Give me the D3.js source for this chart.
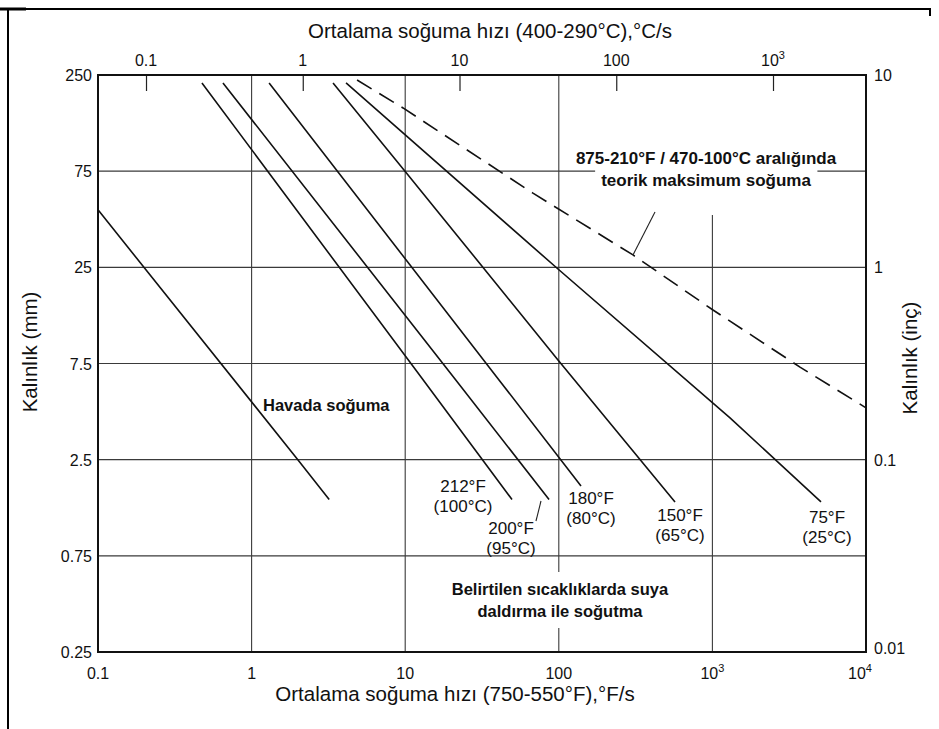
<!DOCTYPE html>
<html>
<head>
<meta charset="utf-8">
<script src="https://cdn.jsdelivr.net/npm/d3@7"></script>
<style>
  html, body { margin: 0; padding: 0; background: #fff; }
  svg { display: block; }
  text { font-family: "Liberation Sans", Arial, Helvetica, sans-serif; fill: #111; }
  .bold { font-weight: bold; }
</style>
</head>
<body>
<svg id="chart" width="939" height="729"></svg>
<script>
// Bottom axis: average cooling rate (750-550°F), °F/s
const bottomTicks = [0.1, 1, 10, 100, 1000, 10000];
const bottomTickLabels = [["0.1"], ["1"], ["10"], ["100"], ["10", "3"], ["10", "4"]];
// Top axis: average cooling rate (400-290°C), °C/s
const topTicks = [0.1, 1, 10, 100, 1000];
const topTickLabels = [["0.1"], ["1"], ["10"], ["100"], ["10", "3"]];
// Thickness, inches (right) and millimetres (left)
const inchTicks = [10, 1, 0.1, 0.01];
const inchTickLabels = ["10", "1", "0.1", "0.01"];
const mmTickInches = [10, 3.162, 1, 0.3162, 0.1, 0.03162, 0.01];
const mmTickLabels = ["250", "75", "25", "7.5", "2.5", "0.75", "0.25"];

// Cooling curves: rate in °F/s against thickness in inches
const airRate = [0.1, 2.0, 3.2];
const airThick = [1.99, 0.1, 0.062];
const w212Rate = [0.475, 12.5, 49.6];
const w212Thick = [9.09, 0.273, 0.062];
const w200Rate = [0.651, 21.1, 86.4];
const w200Thick = [9.09, 0.263, 0.062];
const w180Rate = [1.30, 41.4, 139.5];
const w180Thick = [9.09, 0.256, 0.073];
const w150Rate = [3.39, 9.82, 98.8, 571];
const w150Thick = [9.09, 3.21, 0.33, 0.0603];
const w75Rate = [4.12, 98.8, 1302, 5093];
const w75Thick = [9.09, 0.98, 0.165, 0.0603];
const maxRate = [4.86, 9.68, 67.9, 304, 1009, 3718, 10000];
const maxThick = [9.42, 6.74, 2.43, 1.16, 0.60, 0.303, 0.186];

const svg = d3.select("#chart");
const plot = { left: 98, right: 866, top: 75, bottom: 652 };

const x = d3.scaleLog().domain([0.1, 10000]).range([plot.left, plot.right]);
const xTop = d3.scaleLog().domain([0.0494, 3920]).range([plot.left, plot.right]);
const y = d3.scaleLog().domain([0.01, 10]).range([plot.bottom, plot.top]);

// Outer frame fragments
const frame = svg.append("g").attr("stroke", "#000").attr("fill", "none");
frame.append("line").attr("x1", 0).attr("x2", 26).attr("y1", 9).attr("y2", 9).attr("stroke-width", 3);
frame.append("line").attr("x1", 8).attr("x2", 931).attr("y1", 9).attr("y2", 9).attr("stroke-width", 2);
frame.append("line").attr("x1", 8).attr("x2", 8).attr("y1", 9).attr("y2", 729).attr("stroke-width", 2);
frame.append("line").attr("x1", 930).attr("x2", 930).attr("y1", 9).attr("y2", 16).attr("stroke-width", 2);

// Grid
const grid = svg.append("g").attr("stroke", "#3a3a3a").attr("stroke-width", 1.1);
mmTickInches.slice(1, -1).forEach(v => {
  grid.append("line").attr("x1", plot.left).attr("x2", plot.right)
    .attr("y1", y(v)).attr("y2", y(v));
});
const verticalGridStart = { 1000: 215 };
bottomTicks.slice(1, -1).forEach(v => {
  grid.append("line").attr("x1", x(v)).attr("x2", x(v))
    .attr("y1", verticalGridStart[v] || plot.top).attr("y2", plot.bottom);
});

// Top axis ticks point inward from the top edge
const topAxis = d3.axisBottom(xTop).tickValues(topTicks).tickSize(16).tickFormat("");
svg.append("g").attr("transform", `translate(0,${plot.top})`).call(topAxis)
  .call(g => g.select(".domain").remove())
  .call(g => g.selectAll(".tick line").attr("stroke", "#222").attr("stroke-width", 1.2));

function supLabel(sel, parts) {
  sel.append("tspan").text(parts[0]);
  if (parts[1]) sel.append("tspan").attr("dy", -7).attr("font-size", 11).text(parts[1]);
}

const labels = svg.append("g").attr("font-size", 16);
topTicks.forEach((v, i) => {
  labels.append("text").attr("x", xTop(v)).attr("y", 66).attr("text-anchor", "middle")
    .call(s => supLabel(s, topTickLabels[i]));
});
bottomTicks.forEach((v, i) => {
  labels.append("text").attr("x", x(v) - (i === bottomTicks.length - 1 ? 6 : 0)).attr("y", 679)
    .attr("text-anchor", "middle")
    .call(s => supLabel(s, bottomTickLabels[i]));
});
mmTickInches.forEach((v, i) => {
  labels.append("text").attr("x", plot.left - 6).attr("y", y(v) + 6).attr("text-anchor", "end")
    .text(mmTickLabels[i]);
});
inchTicks.forEach((v, i) => {
  labels.append("text").attr("x", plot.right + 8).attr("y", y(v) + (i === inchTicks.length - 1 ? 2 : 6))
    .attr("text-anchor", "start")
    .text(inchTickLabels[i]);
});

// Axis titles
svg.append("text").attr("x", 490).attr("y", 38).attr("text-anchor", "middle").attr("font-size", 20.5)
  .text("Ortalama soğuma hızı (400-290°C),°C/s");
svg.append("text").attr("x", 455).attr("y", 701).attr("text-anchor", "middle").attr("font-size", 20.5)
  .text("Ortalama soğuma hızı (750-550°F),°F/s");
svg.append("text").attr("transform", "translate(37,352) rotate(-90)").attr("text-anchor", "middle")
  .attr("font-size", 20.5).text("Kalınlık (mm)");
svg.append("text").attr("transform", "translate(917,358) rotate(-90)").attr("text-anchor", "middle")
  .attr("font-size", 20.5).text("Kalınlık (inç)");

// Annotation texts with white backing that breaks the grid under them
const notes = svg.append("g").attr("class", "bold");
function note(textStr, cx, cy, size, padX, padY, anchor) {
  const t = notes.append("text").attr("x", cx).attr("y", cy).attr("font-size", size)
    .attr("text-anchor", anchor || "middle").text(textStr);
  const b = t.node().getBBox();
  notes.insert("rect", "text").attr("x", b.x - padX).attr("y", b.y - padY)
    .attr("width", b.width + 2 * padX).attr("height", b.height + 2 * padY).attr("fill", "#fff");
}
note("875-210°F / 470-100°C aralığında", 706, 164, 17, 2, 1);
note("teorik maksimum soğuma", 706, 186, 17, 6, 1);
note("Belirtilen sıcaklıklarda suya", 560, 595, 16.5, 4, 8);
note("daldırma ile soğutma", 560, 617, 16.5, 4, 8);
note("Havada soğuma", 263, 411, 16.5, 0, 0, "start");

// Curves
const line = d3.line().x(d => x(d[0])).y(d => y(d[1]));
const zip = (a, b) => a.map((v, i) => [v, b[i]]);
const curves = svg.append("g").attr("fill", "none").attr("stroke", "#111")
  .attr("stroke-width", 1.6).attr("stroke-linejoin", "round");
[[airRate, airThick], [w212Rate, w212Thick], [w200Rate, w200Thick], [w180Rate, w180Thick],
 [w150Rate, w150Thick], [w75Rate, w75Thick]].forEach(([r, t]) => {
  curves.append("path").attr("d", line(zip(r, t)));
});
curves.append("path").attr("d", line(zip(maxRate, maxThick))).attr("stroke-dasharray", "17 9");

// Leader lines
const leaders = svg.append("g").attr("stroke", "#222").attr("stroke-width", 1.1);
leaders.append("line").attr("x1", x(304)).attr("y1", y(1.16)).attr("x2", 655).attr("y2", 212);
leaders.append("line").attr("x1", 541).attr("y1", 501).attr("x2", 536).attr("y2", 521);

// Curve labels
const curveLabels = [
  ["212°F", "(100°C)", 463, 492],
  ["200°F", "(95°C)", 511, 534],
  ["180°F", "(80°C)", 591, 504],
  ["150°F", "(65°C)", 680, 521],
  ["75°F", "(25°C)", 827, 523]
];
const cl = svg.append("g").attr("font-size", 17).attr("text-anchor", "middle");
curveLabels.forEach(([a, b, cx, cy]) => {
  cl.append("text").attr("x", cx).attr("y", cy).text(a);
  cl.append("text").attr("x", cx).attr("y", cy + 20).text(b);
});

// Plot border
svg.append("rect").attr("x", plot.left).attr("y", plot.top)
  .attr("width", plot.right - plot.left).attr("height", plot.bottom - plot.top)
  .attr("fill", "none").attr("stroke", "#111").attr("stroke-width", 2);
</script>
</body>
</html>
